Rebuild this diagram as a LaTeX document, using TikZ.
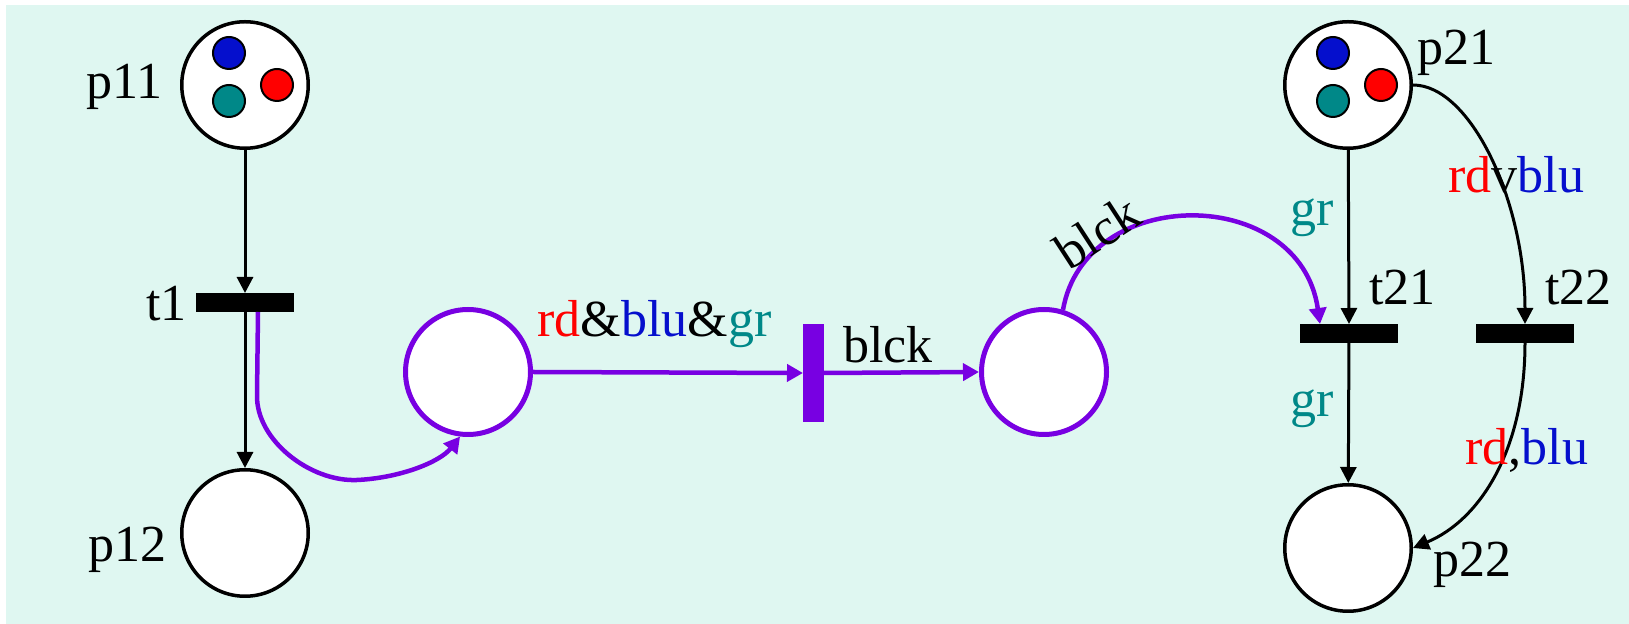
\documentclass[tikz,border=0pt]{standalone}
\usepackage{fontspec}
\setmainfont{Liberation Serif}
\usetikzlibrary{arrows.meta,calc}
\definecolor{mint}{RGB}{223,247,241}
\definecolor{pur}{RGB}{120,0,226}
\definecolor{tred}{RGB}{255,0,0}
\definecolor{tblue}{RGB}{5,15,205}
\definecolor{tteal}{RGB}{0,136,136}
\begin{document}
\begin{tikzpicture}[x=0.5pt,y=-0.5pt,
 place/.style={circle,draw=black,line width=1.75pt,fill=white,minimum size=63.25pt,inner sep=0},
 pplace/.style={place,draw=pur,line width=2.5pt,minimum size=62.5pt},
 token/.style={circle,draw=black,line width=1pt,minimum size=16pt,inner sep=0},
 tbar/.style={rectangle,fill=black,minimum width=49pt,minimum height=9.5pt,inner sep=0,outer sep=0},
 pbar/.style={rectangle,fill=pur,minimum width=10.5pt,minimum height=49pt,inner sep=0,outer sep=0},
 arc/.style={line width=1.5pt,-{Triangle[length=8pt,width=8pt]}},
 parc/.style={draw=pur,line width=2.25pt,-{Triangle[length=8pt,width=8.5pt]}},
 lbl/.style={font=\fontsize{26pt}{31pt}\selectfont,inner sep=0}]
\useasboundingbox (0,0) rectangle (1629,624);
\fill[white] (0,0) rectangle (1629,624);
\fill[mint] (6,5) rectangle (1629,624);
% places
\node[place] (p11) at (245,85) {};
\node[place] (p12) at (245,533) {};
\node[place] (p21) at (1348,85) {};
\node[place] (p22) at (1348,548) {};
\node[pplace] (pa) at (468,372) {};
\node[pplace] (pb) at (1044,372) {};
% tokens
\node[token,fill=tblue] (b1) at (229,53) {};
\node[token,fill=tteal] (g1) at (229,101) {};
\node[token,fill=tred] (r1) at (277,85) {};
\node[token,fill=tblue] (b2) at (1333,53) {};
\node[token,fill=tteal] (g2) at (1333,101) {};
\node[token,fill=tred] (r2) at (1381,85) {};
% transitions
\node[tbar] (t1) at (245,302.5) {};
\node[tbar] (t21) at (1349,333.5) {};
\node[tbar] (t22) at (1525,333.5) {};
\node[pbar] (tb) at (813.5,373) {};
% arcs
\draw[arc] (p11) -- (t1);
\draw[arc] (t1) -- (p12);
\draw[arc] (p21) -- (t21.north);
\draw[arc] (t21) -- (p22);
\draw[arc] (p21.east) .. controls (1470,85) and (1525,200) .. (t22.north);
\draw[arc] (t22.south) .. controls (1525,450) and (1480,520) .. (p22.east);
\draw[parc] ($(t1.south)+(13,0)$) -- (257,395) .. controls (256,440) and (310,482) .. (357,480) .. controls (400,478) and (440,462) .. (pa.-97);
\draw[parc] (pa.east) -- (tb.west);
\draw[parc] (tb.east) -- (pb.west);
\draw[parc] (pb.73) .. controls (1085,184) and (1300,184) .. ($(t21.north west)+(20,0)$);
% labels
\node[lbl,anchor=base east] (lp11) at (163,99) {p11};
\node[lbl,anchor=base east] (lt1) at (187,321) {t1};
\node[lbl,anchor=base east] (lp12) at (167,562) {p12};
\node[lbl,anchor=base west] (lrbg) at (537,337) {\textcolor{tred}{rd}\&\textcolor{tblue}{blu}\&\textcolor{tteal}{gr}};
\node[lbl,anchor=base west] (lblck) at (843,363) {blck};
\node[lbl,rotate=33] (lblck2) at (1097,232) {blck};
\node[lbl,anchor=base west,text=tteal] (lgr1) at (1290,226) {gr};
\node[lbl,anchor=base west,text=tteal] (lgr2) at (1290,417) {gr};
\node[lbl,anchor=base west] (lt21) at (1369,305) {t21};
\node[lbl,anchor=base west] (lt22) at (1545,305) {t22};
\node[lbl,anchor=base west] (lp21) at (1417,65) {p21};
\node[lbl,anchor=base west] (lp22) at (1433,577) {p22};
\node[lbl,anchor=base west] (lrvb) at (1448,193) {\textcolor{tred}{rd}v\textcolor{tblue}{blu}};
\node[lbl,anchor=base west] (lrcb) at (1465,465) {\textcolor{tred}{rd},\textcolor{tblue}{blu}};
\end{tikzpicture}
\end{document}
